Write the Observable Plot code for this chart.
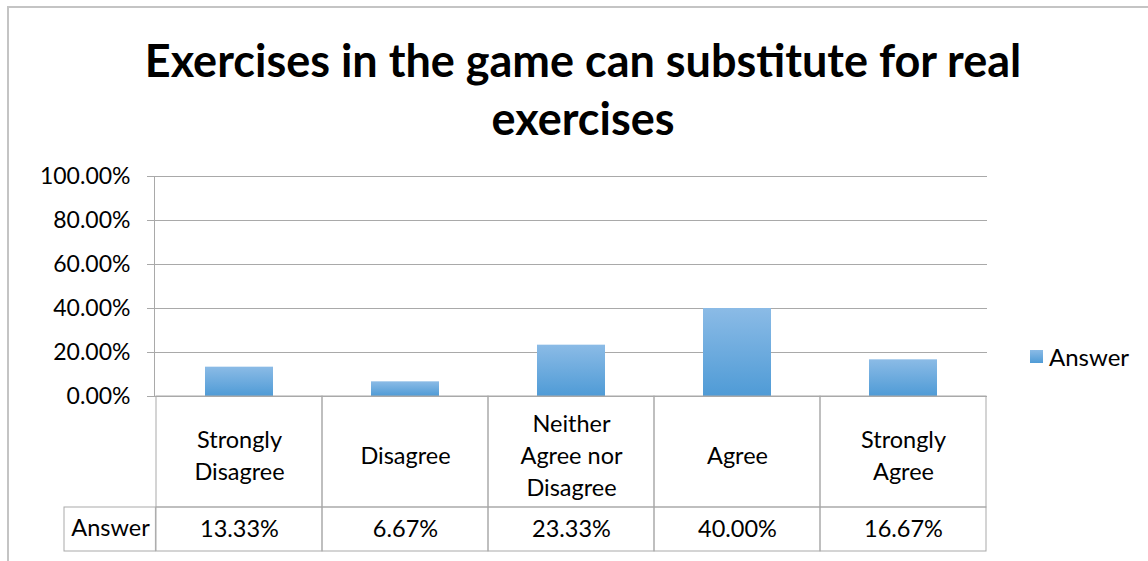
<!DOCTYPE html>
<html>
<head>
<meta charset="utf-8">
<script src="https://cdn.jsdelivr.net/npm/d3@7"></script>
<script src="https://cdn.jsdelivr.net/npm/@observablehq/plot@0.6"></script>
<style>
  html, body { margin: 0; padding: 0; background: #fff; }
  #wrap { position: relative; width: 1148px; height: 561px; overflow: hidden; font-family: Lato, "Open Sans", sans-serif; }
  #frame { position: absolute; left: 7px; top: 6px; width: 1200px; height: 600px; border-top: 2px solid #c4c4c4; border-left: 2px solid #c4c4c4; box-sizing: border-box; }
  #title { position: relative; height: 150px; width: 1148px; text-align: center; font-weight: 700; font-size: 45px; line-height: 58px; padding-top: 31px; box-sizing: border-box; color: #000; padding-left: 18px; }
  #plot { position: absolute; left: 0; top: 150px; }
  #legend { position: absolute; left: 1030px; top: 342px; display: flex; align-items: center; font-size: 24px; color: #000; }
  #legend .sw { width: 13px; height: 13px; background: linear-gradient(#8bbbe6, #4f9bd6); margin-right: 6px; }
</style>
</head>
<body>
<div id="wrap">
  <div id="frame"></div>
  <div id="title"></div>
  <div id="plot"></div>
  <div id="legend"></div>
</div>
<script>
const titleLines = ["Exercises in the game can substitute for real", "exercises"];
const seriesName = "Answer";
const categories = ["Strongly Disagree", "Disagree", "Neither Agree nor Disagree", "Agree", "Strongly Agree"];
const categoryLabels = ["Strongly\nDisagree", "Disagree", "Neither\nAgree nor\nDisagree", "Agree", "Strongly\nAgree"];
const values = [0.1333, 0.0667, 0.2333, 0.4000, 0.1667];
const yTicks = [0, 0.2, 0.4, 0.6, 0.8, 1.0];

const data = categories.map((c, i) => ({cat: c, label: categoryLabels[i], value: values[i]}));
const pct = d3.format(".2%");
const gridColor = "#a9a9a9";

document.getElementById("title").innerHTML = titleLines.join("<br>");

const chart = Plot.plot({
  width: 1148,
  height: 411,
  marginLeft: 154,
  marginRight: 161,
  marginTop: 26,
  marginBottom: 165,
  x: {domain: categories, padding: 0, axis: null},
  y: {domain: [0, 1], axis: null},
  style: {fontFamily: "Lato, 'Open Sans', sans-serif", fontSize: "23px", color: "#000", overflow: "visible", background: "transparent"},
  marks: [
    Plot.ruleY(yTicks, {stroke: gridColor, strokeWidth: 1}),
    Plot.axisY({ticks: yTicks, tickFormat: pct, tickSize: 7, tickPadding: 17, stroke: gridColor, fill: "#000", fontSize: 23, label: null}),
    Plot.frame({anchor: "left", stroke: gridColor}),
    Plot.barY(data, {x: "cat", y: "value", fill: "url(#barGrad)", insetLeft: 49, insetRight: 49}),
    // data table: category row
    Plot.barY(data, {x: "cat", y1: d => 0, y2: d => 0, fill: "none", stroke: gridColor, insetBottom: -111}),
    // data table: value row
    Plot.barY(data, {x: "cat", y1: d => 0, y2: d => 0, fill: "none", stroke: gridColor, insetTop: 111, insetBottom: -155}),
    Plot.text(data, {x: "cat", y: d => 0, text: "label", dy: 57, lineHeight: 1.36, fontSize: 23.5, fill: "#000"}),
    Plot.text(data, {x: "cat", y: d => 0, text: d => pct(d.value), dy: 133, fontSize: 23.5, fill: "#000"}),
    // row header of the value row
    Plot.barY([categories[0]], {x: d => d, y1: d => 0, y2: d => 0, fill: "none", stroke: gridColor, insetTop: 111, insetBottom: -155, insetLeft: -92, insetRight: 166.6}),
    Plot.text([categories[0]], {x: d => d, y: d => 0, text: () => seriesName, dy: 132, dx: -129, fontSize: 23.5, fill: "#000"})
  ]
});

const ns = "http://www.w3.org/2000/svg";
const defs = document.createElementNS(ns, "defs");
defs.innerHTML = '<linearGradient id="barGrad" x1="0" y1="0" x2="0" y2="1"><stop offset="0" stop-color="#8bbbe6"/><stop offset="1" stop-color="#4f9bd6"/></linearGradient>';
chart.insertBefore(defs, chart.firstChild);
document.getElementById("plot").appendChild(chart);

document.getElementById("legend").innerHTML = '<div class="sw"></div><span>' + seriesName + '</span>';
</script>
</body>
</html>
